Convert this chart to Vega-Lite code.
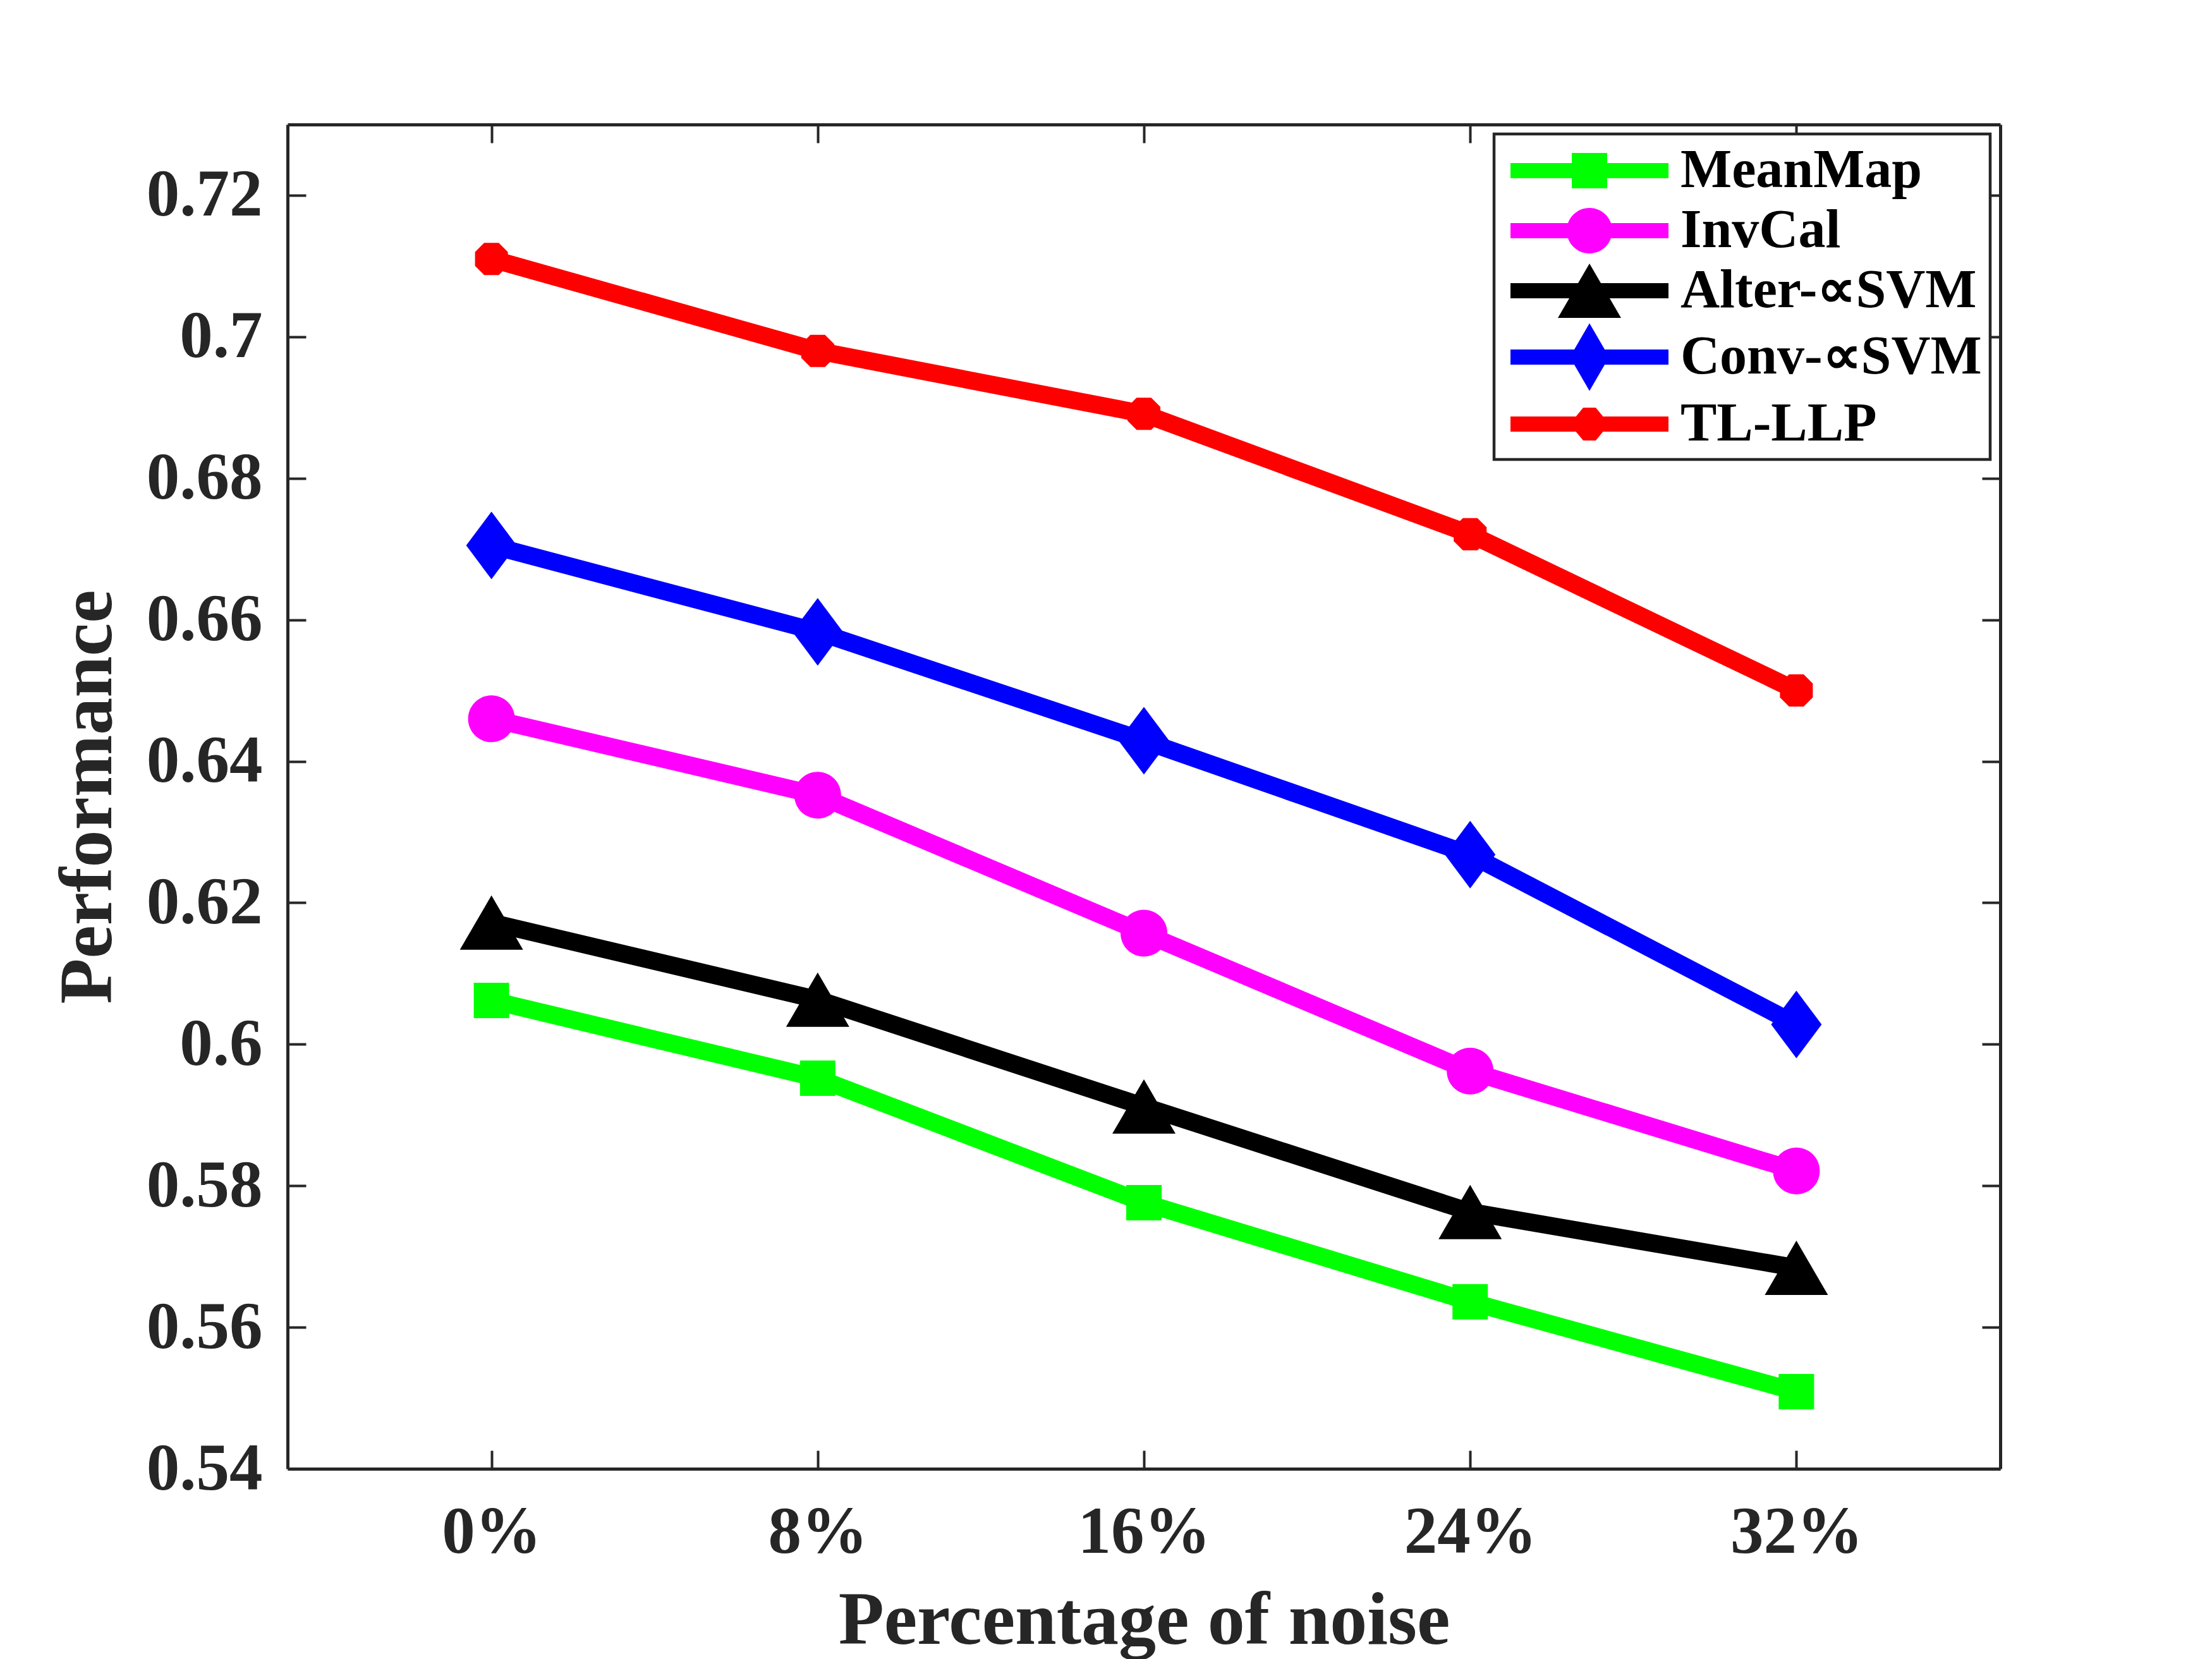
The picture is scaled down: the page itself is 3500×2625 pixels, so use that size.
{
  "$schema": "https://vega.github.io/schema/vega-lite/v6.json",
  "width": 2710,
  "height": 2127,
  "autosize": "none",
  "padding": {"left": 455, "top": 197, "right": 335, "bottom": 301},
  "background": "white",
  "data": {
    "values": [
      {"noise": 0, "method": "MeanMap", "value": 0.6062},
      {"noise": 8, "method": "MeanMap", "value": 0.5952},
      {"noise": 16, "method": "MeanMap", "value": 0.5776},
      {"noise": 24, "method": "MeanMap", "value": 0.5636},
      {"noise": 32, "method": "MeanMap", "value": 0.5509},
      {"noise": 0, "method": "InvCal", "value": 0.646},
      {"noise": 8, "method": "InvCal", "value": 0.6352},
      {"noise": 16, "method": "InvCal", "value": 0.6157},
      {"noise": 24, "method": "InvCal", "value": 0.5962},
      {"noise": 32, "method": "InvCal", "value": 0.5821},
      {"noise": 0, "method": "Alter-∝SVM", "value": 0.6172},
      {"noise": 8, "method": "Alter-∝SVM", "value": 0.6063},
      {"noise": 16, "method": "Alter-∝SVM", "value": 0.5912},
      {"noise": 24, "method": "Alter-∝SVM", "value": 0.5763},
      {"noise": 32, "method": "Alter-∝SVM", "value": 0.5684},
      {"noise": 0, "method": "Conv-∝SVM", "value": 0.6705},
      {"noise": 8, "method": "Conv-∝SVM", "value": 0.6583},
      {"noise": 16, "method": "Conv-∝SVM", "value": 0.6429},
      {"noise": 24, "method": "Conv-∝SVM", "value": 0.6268},
      {"noise": 32, "method": "Conv-∝SVM", "value": 0.6028},
      {"noise": 0, "method": "TL-LLP", "value": 0.711},
      {"noise": 8, "method": "TL-LLP", "value": 0.698},
      {"noise": 16, "method": "TL-LLP", "value": 0.6891},
      {"noise": 24, "method": "TL-LLP", "value": 0.6721},
      {"noise": 32, "method": "TL-LLP", "value": 0.65}
    ]
  },
  "layer": [
    {
      "transform": [{"filter": "datum.method === 'MeanMap'"}],
      "mark": {
        "type": "line", "color": "#00ff00", "strokeWidth": 28,
        "point": {"filled": true, "color": "#00ff00", "strokeWidth": 0, "size": 10000, "shape": "M-0.56,-0.56H0.56V0.56H-0.56Z"}
      },
      "encoding": {
        "x": {"field": "noise", "type": "quantitative", "scale": {"domain": [-5, 37], "nice": false, "zero": false}, "axis": null},
        "y": {"field": "value", "type": "quantitative", "scale": {"domain": [0.54, 0.73], "nice": false, "zero": false}, "axis": null}
      }
    },
    {
      "transform": [{"filter": "datum.method === 'InvCal'"}],
      "mark": {
        "type": "line", "color": "#ff00ff", "strokeWidth": 28,
        "point": {"filled": true, "color": "#ff00ff", "strokeWidth": 0, "size": 10000, "shape": "M-0.74,0A0.74,0.74,0,1,1,0.74,0A0.74,0.74,0,1,1,-0.74,0Z"}
      },
      "encoding": {
        "x": {"field": "noise", "type": "quantitative", "axis": null},
        "y": {"field": "value", "type": "quantitative", "axis": null}
      }
    },
    {
      "transform": [{"filter": "datum.method === 'Alter-∝SVM'"}],
      "mark": {
        "type": "line", "color": "#000000", "strokeWidth": 28,
        "point": {"filled": true, "color": "#000000", "strokeWidth": 0, "size": 10000, "shape": "M0,-0.86L1,0.86L-1,0.86Z"}
      },
      "encoding": {
        "x": {"field": "noise", "type": "quantitative", "axis": null},
        "y": {"field": "value", "type": "quantitative", "axis": null}
      }
    },
    {
      "transform": [{"filter": "datum.method === 'Conv-∝SVM'"}],
      "mark": {
        "type": "line", "color": "#0000ff", "strokeWidth": 28,
        "point": {"filled": true, "color": "#0000ff", "strokeWidth": 0, "size": 10000, "shape": "M0,-1.07L0.8,0L0,1.07L-0.8,0Z"}
      },
      "encoding": {
        "x": {"field": "noise", "type": "quantitative", "axis": null},
        "y": {"field": "value", "type": "quantitative", "axis": null}
      }
    },
    {
      "transform": [{"filter": "datum.method === 'TL-LLP'"}],
      "mark": {
        "type": "line", "color": "#ff0000", "strokeWidth": 28,
        "point": {"filled": true, "color": "#ff0000", "strokeWidth": 0, "size": 10000, "shape": "M-0.23,-0.51L0.23,-0.51L0.52,-0.22L0.52,0.22L0.23,0.51L-0.23,0.51L-0.52,0.22L-0.52,-0.22Z"}
      },
      "encoding": {
        "x": {"field": "noise", "type": "quantitative", "axis": null},
        "y": {"field": "value", "type": "quantitative", "axis": null}
      }
    },
    {
      "mark": {"type": "point", "filled": true, "opacity": 0, "size": 8100, "strokeWidth": 0},
      "encoding": {
        "x": {
          "field": "noise",
          "type": "quantitative",
          "axis": {
            "orient": "bottom",
            "values": [0, 8, 16, 24, 32],
            "labelExpr": "datum.value + '%'",
            "title": "Percentage of noise",
            "labelPadding": 78,
            "titlePadding": 30
          }
        },
        "y": {
          "field": "value",
          "type": "quantitative",
          "axis": {
            "orient": "left",
            "values": [0.54, 0.56, 0.58, 0.6, 0.62, 0.64, 0.66, 0.68, 0.7, 0.72],
            "format": ".2~f",
            "title": "Performance",
            "labelPadding": 69,
            "titlePadding": 55
          }
        },
        "color": {
          "field": "method",
          "type": "nominal",
          "scale": {
            "domain": ["MeanMap", "InvCal", "Alter-∝SVM", "Conv-∝SVM", "TL-LLP"],
            "range": ["#00ff00", "#ff00ff", "#000000", "#0000ff", "#ff0000"]
          },
          "legend": {
            "title": null,
            "orient": "none",
            "legendX": 1909,
            "legendY": 15,
            "padding": 13,
            "symbolSize": 8100,
            "symbolOffset": 93,
            "labelOffset": 99,
            "rowPadding": 7,
            "symbolStrokeWidth": 0,
            "symbolOpacity": 1,
            "labelFont": "Liberation Serif",
            "labelFontWeight": "bold",
            "labelFontSize": 86,
            "labelColor": "#000000",
            "labelLimit": 1000,
            "strokeColor": "#262626",
            "fillColor": "white"
          }
        },
        "shape": {
          "field": "method",
          "type": "nominal",
          "scale": {
            "domain": ["MeanMap", "InvCal", "Alter-∝SVM", "Conv-∝SVM", "TL-LLP"],
            "range": [
              "M-2.778,-0.267H2.778V0.267H-2.778ZM-0.622,-0.622H0.622V0.622H-0.622Z",
              "M-2.778,-0.267H2.778V0.267H-2.778ZM-0.8,0A0.8,0.8,0,1,1,0.8,0A0.8,0.8,0,1,1,-0.8,0Z",
              "M-2.778,-0.267H2.778V0.267H-2.778ZM0,-0.956L1.111,0.956L-1.111,0.956Z",
              "M-2.778,-0.267H2.778V0.267H-2.778ZM0,-1.189L0.689,0L0,1.189L-0.689,0Z",
              "M-2.778,-0.267H2.778V0.267H-2.778ZM-0.22,-0.578L0.22,-0.578L0.49,-0.25L0.49,0.25L0.22,0.578L-0.22,0.578L-0.49,0.25L-0.49,-0.25Z"
            ]
          },
          "legend": {
            "title": null,
            "orient": "none",
            "legendX": 1909,
            "legendY": 15,
            "padding": 13,
            "symbolSize": 8100,
            "symbolOffset": 93,
            "labelOffset": 99,
            "rowPadding": 7,
            "symbolStrokeWidth": 0,
            "symbolOpacity": 1,
            "labelFont": "Liberation Serif",
            "labelFontWeight": "bold",
            "labelFontSize": 86,
            "labelColor": "#000000",
            "labelLimit": 1000,
            "strokeColor": "#262626",
            "fillColor": "white"
          }
        }
      }
    },
    {
      "mark": {"type": "point", "opacity": 0},
      "encoding": {
        "x": {
          "field": "noise",
          "type": "quantitative",
          "axis": {"orient": "top", "values": [0, 8, 16, 24, 32], "labels": false, "title": null}
        },
        "y": {
          "field": "value",
          "type": "quantitative",
          "axis": {
            "orient": "right",
            "values": [0.54, 0.56, 0.58, 0.6, 0.62, 0.64, 0.66, 0.68, 0.7, 0.72],
            "labels": false,
            "title": null
          }
        }
      }
    }
  ],
  "resolve": {"axis": {"x": "independent", "y": "independent"}},
  "config": {
    "view": {"stroke": null},
    "axis": {
      "grid": false,
      "domainColor": "#262626",
      "domainWidth": 5,
      "tickColor": "#262626",
      "tickWidth": 4,
      "tickSize": -29,
      "labelFont": "Liberation Serif",
      "labelFontWeight": "bold",
      "labelFontSize": 105,
      "labelColor": "#262626",
      "labelLimit": 1000,
      "labelFlush": false,
      "labelOverlap": false,
      "titleFont": "Liberation Serif",
      "titleFontWeight": "bold",
      "titleFontSize": 118,
      "titleColor": "#262626"
    },
    "legend": {"strokeWidth": 4.5}
  }
}
